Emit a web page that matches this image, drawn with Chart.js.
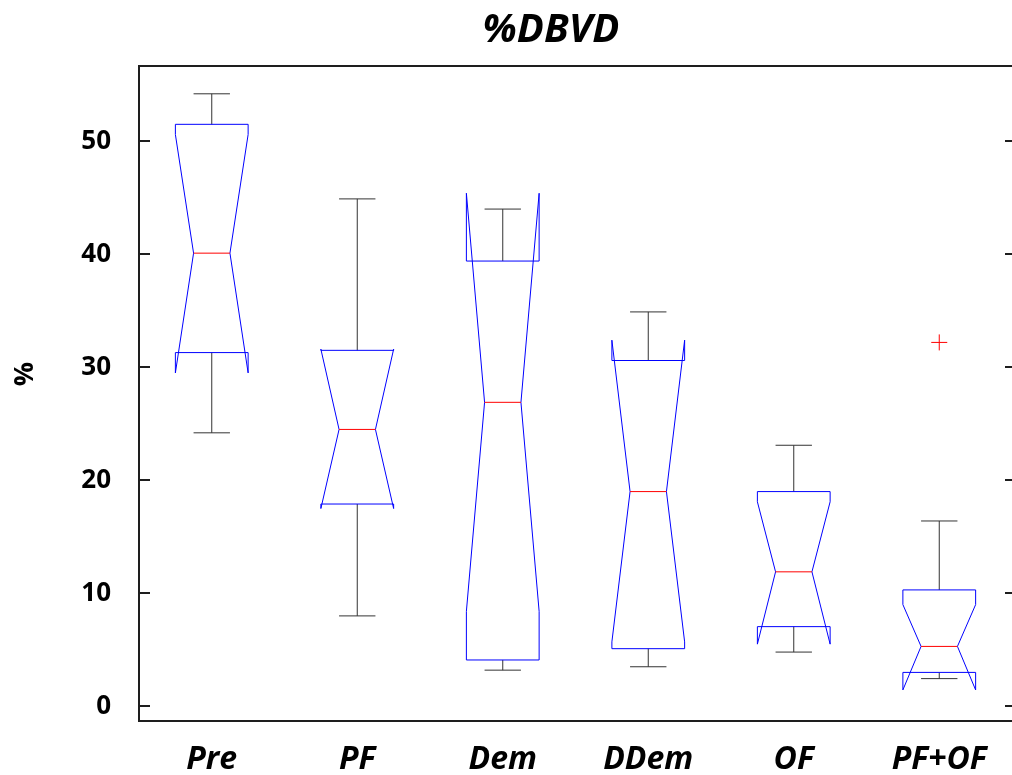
<!DOCTYPE html>
<html>
<head>
<meta charset="utf-8">
<script src="https://cdn.jsdelivr.net/npm/chart.js@4.4.1/dist/chart.umd.min.js"></script>
<style>
  html, body { margin: 0; padding: 0; background: #fff; overflow: hidden; }
  #wrap { width: 1012px; height: 775px; position: relative; }
</style>
</head>
<body>
<div id="wrap"><canvas id="c"></canvas></div>
<script>
// ---- data ----
const categories  = ['Pre', 'PF', 'Dem', 'DDem', 'OF', 'PF+OF'];
const whiskerHigh = [54.2, 44.9, 44.0, 34.9, 23.1, 16.4];
const q3Values    = [51.5, 31.5, 39.4, 30.6, 19.0, 10.3];
const notchHigh   = [50.6, 31.6, 45.4, 32.4, 18.1, 9.0];
const medians     = [40.1, 24.5, 26.9, 19.0, 11.9, 5.3];
const notchLow    = [29.5, 17.5, 8.4, 5.7, 5.5, 1.45];
const q1Values    = [31.3, 17.9, 4.1, 5.1, 7.05, 3.0];
const whiskerLow  = [24.2, 8.0, 3.2, 3.5, 4.8, 2.45];
const outliers    = [null, null, null, null, null, 32.2];
const yTicks      = [0, 10, 20, 30, 40, 50];
const yMin = -1.3, yMax = 56.66;
const titleText = '%DBVD';
const yTitleText = '%';

const FONT = "'Open Sans', 'Noto Sans', sans-serif";

const boxPlugin = {
  id: 'notchedBoxes',
  beforeDatasetsDraw(chart) {
    const ctx = chart.ctx;
    const xs = chart.scales.x, ys = chart.scales.y;
    const step = xs.getPixelForValue(1) - xs.getPixelForValue(0);
    const hw = step * 0.25, nw = step * 0.125, cw = step * 0.125;
    ctx.save();
    ctx.lineWidth = 1;
    for (let i = 0; i < categories.length; i++) {
      const cx = xs.getPixelForValue(i);
      const yq3 = ys.getPixelForValue(q3Values[i]);
      const yq1 = ys.getPixelForValue(q1Values[i]);
      const ym = ys.getPixelForValue(medians[i]);
      const ynh = ys.getPixelForValue(notchHigh[i]);
      const ynl = ys.getPixelForValue(notchLow[i]);
      const ywh = ys.getPixelForValue(whiskerHigh[i]);
      const ywl = ys.getPixelForValue(whiskerLow[i]);
      // whiskers
      ctx.strokeStyle = '#333';
      ctx.beginPath();
      ctx.moveTo(cx, yq3); ctx.lineTo(cx, ywh);
      ctx.moveTo(cx - cw, ywh); ctx.lineTo(cx + cw, ywh);
      ctx.moveTo(cx, yq1); ctx.lineTo(cx, ywl);
      ctx.moveTo(cx - cw, ywl); ctx.lineTo(cx + cw, ywl);
      ctx.stroke();
      // notched box
      const L = cx - hw, R = cx + hw;
      ctx.strokeStyle = '#0000ff';
      ctx.beginPath();
      ctx.moveTo(L, yq3);
      ctx.lineTo(L, ynh);
      ctx.lineTo(cx - nw, ym);
      ctx.lineTo(L, ynl);
      ctx.lineTo(L, yq1);
      ctx.lineTo(R, yq1);
      ctx.lineTo(R, ynl);
      ctx.lineTo(cx + nw, ym);
      ctx.lineTo(R, ynh);
      ctx.lineTo(R, yq3);
      ctx.closePath();
      ctx.stroke();
      // median
      ctx.strokeStyle = '#ff0000';
      ctx.beginPath();
      ctx.moveTo(cx - nw, ym); ctx.lineTo(cx + nw, ym);
      ctx.stroke();
    }
    ctx.restore();
  },
  afterDraw(chart) {
    const ctx = chart.ctx;
    const a = chart.chartArea;
    const ys = chart.scales.y;
    const W = chart.width;
    ctx.save();
    // axes frame (left, top, bottom)
    ctx.strokeStyle = '#1e1e1e';
    ctx.lineWidth = 2;
    ctx.beginPath();
    ctx.moveTo(a.left, a.top); ctx.lineTo(W, a.top);
    ctx.moveTo(a.left, a.top - 1); ctx.lineTo(a.left, a.bottom + 1);
    ctx.moveTo(a.left - 1, a.bottom); ctx.lineTo(W, a.bottom);
    ctx.stroke();
    // inward ticks, left and right
    ctx.beginPath();
    for (const v of yTicks) {
      const y = Math.round(ys.getPixelForValue(v));
      ctx.moveTo(a.left, y); ctx.lineTo(a.left + 11, y);
      ctx.moveTo(W - 7, y); ctx.lineTo(W, y);
    }
    ctx.stroke();
    // title
    ctx.fillStyle = '#000';
    ctx.textAlign = 'center';
    ctx.textBaseline = 'alphabetic';
    ctx.font = "italic bold 40px " + FONT;
    ctx.fillText(titleText, 551, 42);
    // y axis title
    ctx.translate(33, 374);
    ctx.rotate(-Math.PI / 2);
    ctx.font = "bold 27px " + FONT;
    ctx.textAlign = 'center';
    ctx.fillText(yTitleText, 0, 0);
    ctx.restore();
  }
};

new Chart(document.getElementById('c'), {
  type: 'line',
  data: {
    labels: categories,
    datasets: [{
      label: 'outliers',
      data: outliers,
      showLine: false,
      pointStyle: 'cross',
      pointRadius: 8,
      pointBorderColor: '#ff0000',
      pointBorderWidth: 1,
      pointHoverRadius: 8,
      clip: false
    }]
  },
  options: {
    responsive: true,
    maintainAspectRatio: false,
    animation: false,
    events: [],
    layout: { autoPadding: false, padding: { left: 0, right: 0, top: 66, bottom: 0 } },
    plugins: {
      legend: { display: false },
      tooltip: { enabled: false },
      title: { display: false }
    },
    scales: {
      x: {
        type: 'category',
        offset: true,
        grid: { display: false, drawTicks: false },
        border: { display: false },
        ticks: {
          color: '#000',
          padding: 20,
          maxRotation: 0,
          autoSkip: false,
          font: { family: FONT, size: 32, weight: 'bold', style: 'italic' }
        },
        afterFit(scale) { scale.height = 54; scale.paddingLeft = 0; scale.paddingRight = 0; }
      },
      y: {
        min: yMin,
        max: yMax,
        grid: { display: false, drawTicks: false },
        border: { display: false },
        afterBuildTicks(scale) { scale.ticks = yTicks.map(v => ({ value: v })); },
        ticks: {
          color: '#000',
          padding: 28,
          font: { family: FONT, size: 26, weight: 'bold' }
        },
        afterFit(scale) { scale.width = 139; }
      }
    }
  },
  plugins: [boxPlugin]
});
</script>
</body>
</html>
